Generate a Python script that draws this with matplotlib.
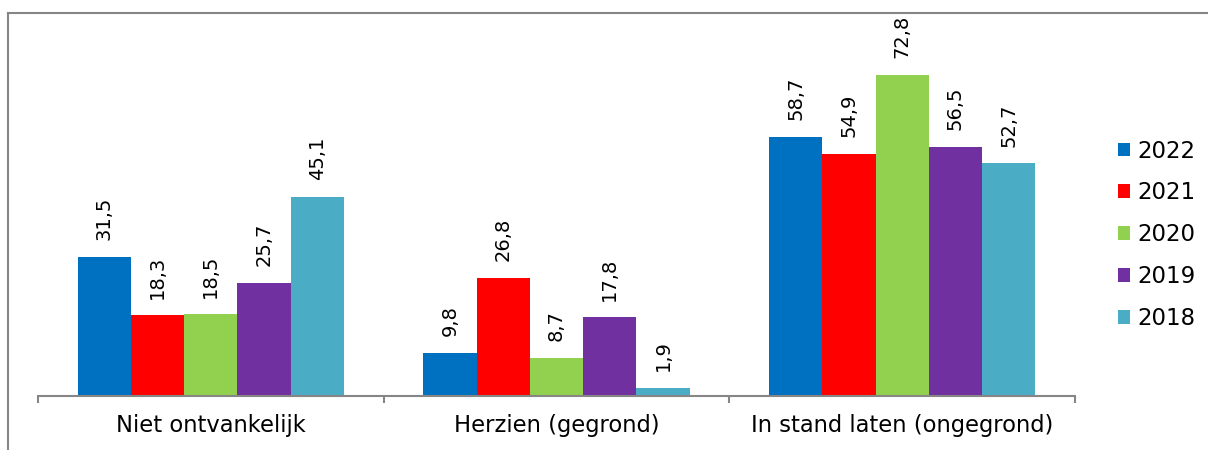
import matplotlib
matplotlib.use("Agg")
import matplotlib.pyplot as plt
from matplotlib.patches import Patch
from matplotlib.lines import Line2D
import numpy as np

categories = ["Niet ontvankelijk", "Herzien (gegrond)", "In stand laten (ongegrond)"]
years = ["2022", "2021", "2020", "2019", "2018"]
values = {
    "2022": [31.5, 9.8, 58.7],
    "2021": [18.3, 26.8, 54.9],
    "2020": [18.5, 8.7, 72.8],
    "2019": [25.7, 17.8, 56.5],
    "2018": [45.1, 1.9, 52.7],
}
colors = ["#0070C0", "#FF0000", "#92D050", "#7030A0", "#4BACC6"]

W, H = 1208, 450
fig = plt.figure(figsize=(W / 100, H / 100), dpi=100)
ax = fig.add_axes([38 / W, 1 - 396 / H, (1075 - 38) / W, 353 / H])

x = np.arange(len(categories))
bw = 0.1542
for i, (yr, c) in enumerate(zip(years, colors)):
    vals = values[yr]
    pos = x + (i - 2) * bw
    ax.bar(pos, vals, width=bw, color=c, edgecolor="none", zorder=2)
    for p, v in zip(pos, vals):
        ax.annotate(f"{v:.1f}".replace(".", ","), (p, v), xytext=(0, 12),
                    textcoords="offset points", rotation=90, ha="center",
                    va="bottom", fontsize=14, color="#000000")

ax.set_xlim(-0.5, 2.5)
ax.set_ylim(0, 80)
for s in ["top", "left", "right"]:
    ax.spines[s].set_visible(False)
ax.spines["bottom"].set_color("#868686")
ax.spines["bottom"].set_linewidth(1.5)
ax.set_yticks([])
ax.set_xticks([-0.5, 0.5, 1.5, 2.5])
ax.set_xticklabels([])
ax.tick_params(axis="x", which="major", length=5, width=1.5, color="#868686")
ax.set_xticks(x, minor=True)
ax.set_xticklabels(categories, minor=True, fontsize=16.3)
ax.tick_params(axis="x", which="minor", length=0, pad=13)

handles = [Patch(facecolor=c, edgecolor="none") for c in colors]
fig.legend(handles, years, loc="upper left", bbox_to_anchor=(1097 / W, 1 - 119 / H),
           frameon=False, fontsize=16.5, handlelength=0.55, handleheight=0.55,
           handletextpad=0.3, labelspacing=0.82)

# outer chart border
fig.add_artist(Line2D([8 / W, 8 / W], [0, 1 - 13 / H], transform=fig.transFigure,
                      color="#868686", linewidth=1.5))
fig.add_artist(Line2D([8 / W, 1], [1 - 13 / H, 1 - 13 / H], transform=fig.transFigure,
                      color="#868686", linewidth=1.5))

fig.savefig("out.png", dpi=100)
